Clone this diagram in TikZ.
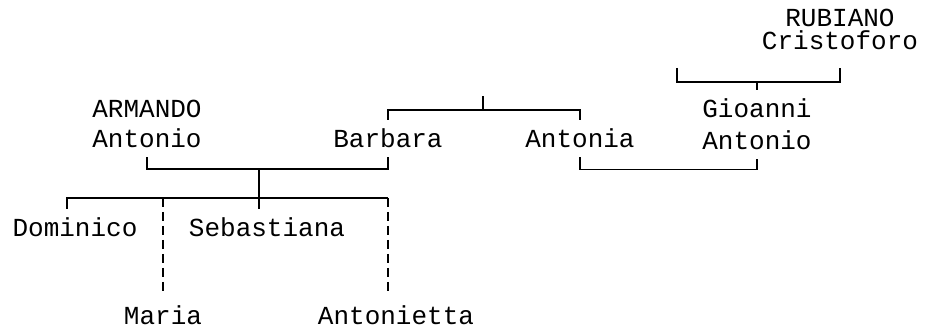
\documentclass[tikz,border=0pt]{standalone}
\usepackage{fontspec}
\setmainfont{Liberation Mono}
\begin{document}
\begin{tikzpicture}[x=1pt,y=-1pt]
\tikzset{
name node/.style={anchor=base,inner xsep=0pt,inner ysep=9pt,align=center,font=\fontsize{26}{30}\selectfont},
kin line/.style={line width=1.5pt},
step line/.style={line width=1.5pt,dash pattern=on 9pt off 5pt}
}
\useasboundingbox (0,0) rectangle (927,331);

\node(rubiano)[name node,font=\fontsize{26}{23}\selectfont] at (840,50){RUBIANO\\Cristoforo};
\node(gioanni)[name node,font=\fontsize{26}{32}\selectfont] at (757,150){Gioanni\\Antonio};
\node(armando)[name node] at (147,148){ARMANDO\\Antonio};
\node(barbara)[name node] at (388,148){Barbara};
\node(antonia)[name node] at (580,148){Antonia};
\node(dominico)[name node] at (75,237){Dominico};
\node(sebastiana)[name node] at (267,237){Sebastiana};
\node(maria)[name node] at (163,324){Maria};
\node(antonietta)[name node] at (396,324){Antonietta};

\coordinate(rubwife) at (677,68);
\coordinate(rub) at (757,82);
\coordinate(sib) at (483,110);
\coordinate(fam) at (259,169);
\coordinate(kidsl) at (67,198);
\coordinate(kidsr) at (388,198);
\coordinate(kidsm) at (163,198);

\draw[kin line] (rubwife) |- (rub) -| ([yshift=-9pt]rubiano.south);
\draw[kin line] (rub) -- (gioanni.north);
\draw[kin line] (barbara.north) |- (sib) -| (antonia.north);
\draw[kin line] (sib) -- ++(0,-14);
\draw[kin line] (armando.south) |- (fam) -| (barbara.south);
\draw[kin line] (antonia.south) -- ++(0,12) -| (gioanni.south);
\draw[kin line] (fam) -- (fam |- sebastiana.north);
\draw[kin line] (kidsl |- dominico.north) -- (kidsl) -- (kidsr);
\draw[step line] (kidsm) -- (maria.north);
\draw[step line] (kidsr) -- (kidsr |- antonietta.north);
\end{tikzpicture}
\end{document}
